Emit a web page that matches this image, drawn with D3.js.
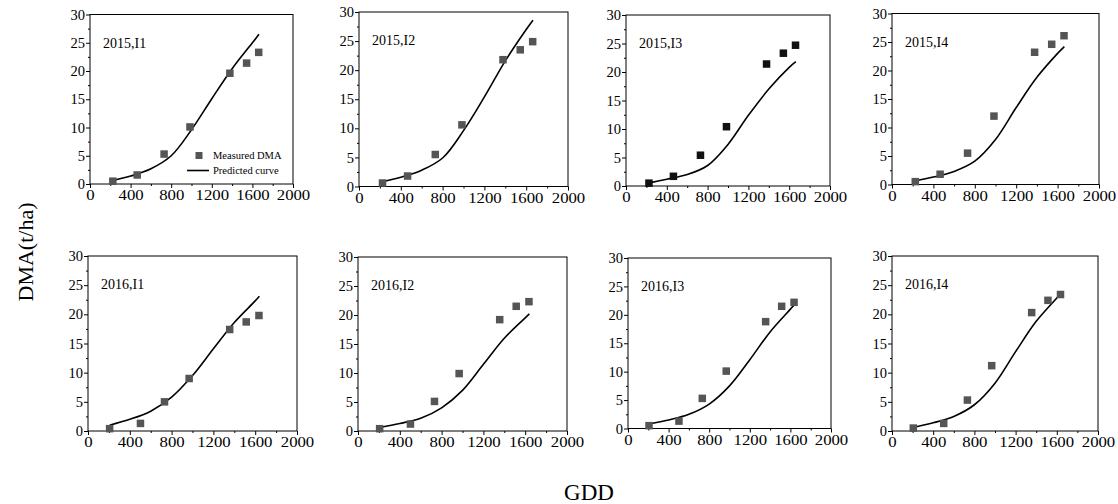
<!DOCTYPE html>
<html><head><meta charset="utf-8">
<script src="https://cdn.jsdelivr.net/npm/d3@7"></script>
<style>
body{margin:0;background:#fff}svg{display:block}
svg text{font-family:"Liberation Serif","Times New Roman","DejaVu Serif",serif;fill:#000}
</style>
</head><body>
<svg id="c" width="1118" height="504"></svg>
<script>
const panelNames = ["2015,I1","2015,I2","2015,I3","2015,I4","2016,I1","2016,I2","2016,I3","2016,I4"];
const xTicks = [0,400,800,1200,1600,2000];
const yTicks = [0,5,10,15,20,25,30];

// measured GDD and DMA (t/ha)
const measGDD2015 = [225,465,730,985,1378,1543,1662];
const measGDD2016 = [207,502,732,968,1356,1514,1636];
const meas15_I1 = [0.5,1.6,5.3,10.1,19.6,21.4,23.3];
const meas15_I2 = [0.6,1.8,5.5,10.6,21.8,23.5,24.9];
const meas15_I3 = [0.5,1.7,5.4,10.4,21.4,23.3,24.7];
const meas15_I4 = [0.5,1.8,5.5,12.0,23.2,24.6,26.1];
const meas16_I1 = [0.4,1.3,5.0,9.0,17.4,18.7,19.8];
const meas16_I2 = [0.4,1.2,5.1,9.9,19.2,21.5,22.3];
const meas16_I3 = [0.5,1.3,5.3,10.1,18.8,21.5,22.2];
const meas16_I4 = [0.5,1.3,5.3,11.2,20.3,22.4,23.4];

// predicted curve, read at these GDD values
const curveGDD2015 = [218,400,600,800,1000,1200,1400,1600,1665];
const curveGDD2016 = [207,400,600,800,1000,1200,1400,1600,1640];
const pred15_I1 = [0.6,1.4,2.7,5.0,9.6,15.1,20.4,25.0,26.5];
const pred15_I2 = [0.8,1.6,2.8,4.9,9.6,15.4,21.6,27.0,28.6];
const pred15_I3 = [0.5,1.2,2.0,3.6,7.3,12.4,17.0,20.8,21.8];
const pred15_I4 = [0.6,1.3,2.3,4.1,7.9,13.5,18.8,23.0,24.2];
const pred16_I1 = [1.0,2.0,3.4,5.8,9.5,14.1,18.6,22.3,23.1];
const pred16_I2 = [0.6,1.3,2.2,4.0,7.0,11.5,16.0,19.5,20.2];
const pred16_I3 = [0.8,1.5,2.5,4.3,7.5,12.1,17.0,21.0,21.8];
const pred16_I4 = [0.6,1.4,2.5,4.5,8.2,13.6,18.8,22.8,23.6];

const measAll = [meas15_I1,meas15_I2,meas15_I3,meas15_I4,meas16_I1,meas16_I2,meas16_I3,meas16_I4];
const predAll = [pred15_I1,pred15_I2,pred15_I3,pred15_I4,pred16_I1,pred16_I2,pred16_I3,pred16_I4];

// layout (pixel boxes of each panel)
const boxes = [
  {l:90,r:293,t:14.5,b:184},{l:359,r:568,t:12,b:186.5},{l:626,r:830,t:15,b:186},{l:892,r:1099,t:13.5,b:184.5},
  {l:88,r:297,t:256,b:431},{l:358,r:567,t:257,b:431},{l:628,r:831,t:258,b:428.5},{l:892,r:1098,t:256,b:431}
];
const markerColors = ["#555","#555","#111","#555","#555","#555","#555","#555"];

const svg = d3.select("#c");

boxes.forEach((bx,i)=>{
  const gdd = i<4 ? measGDD2015 : measGDD2016;
  const cg = i<4 ? curveGDD2015 : curveGDD2016;
  const x = d3.scaleLinear().domain([0,2000]).range([bx.l,bx.r]);
  const y = d3.scaleLinear().domain([0,30]).range([bx.b,bx.t]);
  const g = svg.append("g");

  g.append("rect").attr("x",bx.l).attr("y",bx.t).attr("width",bx.r-bx.l).attr("height",bx.b-bx.t)
    .attr("fill","none").attr("stroke","#000").attr("stroke-width",1);

  const xa = g.append("g").attr("transform",`translate(0,${bx.b})`)
    .call(d3.axisBottom(x).tickValues(d3.range(200,2000,400)).tickSize(2).tickFormat(""));
  const ya = g.append("g").attr("transform",`translate(${bx.l},0)`)
    .call(d3.axisLeft(y).tickValues(d3.range(2.5,30,5)).tickSize(2).tickFormat(""));
  const xb = g.append("g").attr("transform",`translate(0,${bx.b})`)
    .call(d3.axisBottom(x).tickValues(xTicks).tickSize(4).tickPadding(1).tickFormat(d3.format("d")));
  const yb = g.append("g").attr("transform",`translate(${bx.l},0)`)
    .call(d3.axisLeft(y).tickValues(yTicks).tickSize(4).tickPadding(1).tickFormat(d3.format("d")));
  [xa,ya,xb,yb].forEach(a=>{ a.attr("font-family",null); a.select(".domain").remove(); a.selectAll("line").attr("stroke","#000"); });
  xb.selectAll("text").attr("font-size",15.5).attr("transform","scale(1.08,1)");
  yb.selectAll("text").attr("font-size",14.5);

  const line = d3.line().x(d=>x(d[0])).y(d=>y(d[1])).curve(d3.curveCatmullRom.alpha(0.5));
  g.append("path").datum(cg.map((v,k)=>[v,predAll[i][k]]))
    .attr("d",line).attr("fill","none").attr("stroke","#000").attr("stroke-width",1.6);

  const s = 7.5;
  g.selectAll("rect.m").data(gdd.map((v,k)=>[v,measAll[i][k]])).join("rect").attr("class","m")
    .attr("x",d=>x(d[0])-s/2).attr("y",d=>y(d[1])-s/2).attr("width",s).attr("height",s)
    .attr("fill",markerColors[i]);

  g.append("text").attr("x",bx.l+13).attr("y",bx.t+33).text(panelNames[i]).attr("font-size",14);

  if(i===0){
    const lx = bx.l+109, ly1 = bx.t+141, ly2 = bx.t+156;
    g.append("rect").attr("x",lx-3.5).attr("y",ly1-3.5).attr("width",7).attr("height",7).attr("fill","#555");
    g.append("text").attr("x",lx+14).attr("y",ly1+3.5).text("Measured DMA").attr("font-size",10.5);
    g.append("line").attr("x1",lx-12).attr("x2",lx+10).attr("y1",ly2).attr("y2",ly2).attr("stroke","#000").attr("stroke-width",1.6);
    g.append("text").attr("x",lx+14).attr("y",ly2+3.5).text("Predicted curve").attr("font-size",10.5);
  }
});

svg.append("text").attr("transform","translate(33,252) rotate(-90)").attr("text-anchor","middle")
  .text("DMA(t/ha)").attr("font-size",22);
svg.append("text").attr("x",589).attr("y",500).attr("text-anchor","middle")
  .text("GDD").attr("font-size",23);
</script>
</body></html>
